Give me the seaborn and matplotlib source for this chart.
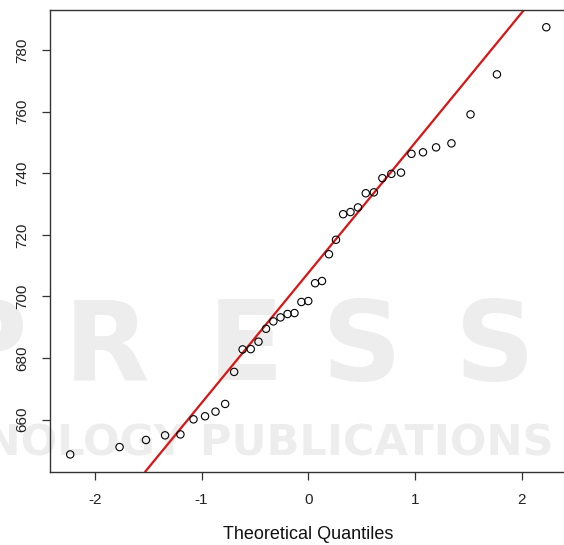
import matplotlib
matplotlib.use("Agg")
import matplotlib.pyplot as plt
import numpy as np
import pandas as pd
import seaborn as sns
from statistics import NormalDist

# sample values (sorted), n = 39
sample_values = [648.7, 651.1, 653.4, 654.9, 655.2, 660.1, 661.1, 662.6, 665.1, 675.5,
                 682.8, 682.9, 685.3, 689.5, 691.9, 693.2, 694.3, 694.6, 698.2, 698.5,
                 704.3, 705.0, 713.7, 718.4, 726.7, 727.4, 728.9, 733.5, 733.8, 738.4,
                 739.8, 740.2, 746.3, 746.8, 748.4, 749.7, 759.1, 772.1, 787.4]
x_ticks = [-2, -1, 0, 1, 2]
y_ticks = [660, 680, 700, 720, 740, 760, 780]
x_label = "Theoretical Quantiles"

# normal Q-Q: theoretical quantiles like R's qqnorm (ppoints for n > 10)
vals = np.sort(sample_values)
n = len(vals)
nd = NormalDist()
probs = (np.arange(1, n + 1) - 0.5) / n
theo = [nd.inv_cdf(p) for p in probs]
df = pd.DataFrame({"theoretical": theo, "sample": vals})

# qqline through first and third quartiles
q1, q3 = np.quantile(vals, [0.25, 0.75])
z1, z3 = nd.inv_cdf(0.25), nd.inv_cdf(0.75)
slope = (q3 - q1) / (z3 - z1)
intercept = q1 - slope * z1

sns.set_style("white")
plt.rcParams['font.family'] = ['Liberation Sans', 'DejaVu Sans']

W, H = 564, 545
fig = plt.figure(figsize=(W / 100, H / 100), dpi=100)

# faint publisher watermark, kept behind the plot
wm = '#ededed'
for letter, cx in zip("PRESS", [-14, 107, 246, 362, 495]):
    fig.text(cx / W, 1 - 380 / H, letter, fontsize=80, fontweight='bold', color=wm,
             family='DejaVu Sans', ha='center', va='baseline', zorder=-5)
fig.text(553 / W, 1 - 455 / H, "TECHNOLOGY PUBLICATIONS", fontsize=31, fontweight='bold',
         color=wm, family='DejaVu Sans', ha='right', va='baseline', zorder=-5)

ax = fig.add_axes([50 / W, (H - 471.7) / H, 516.5 / W, 461.7 / H])
ax.set_zorder(2)
ax.set_facecolor('none')

ax.axline((0, intercept), slope=slope, color='#d81414', lw=1.6, zorder=2)
sns.scatterplot(data=df, x="theoretical", y="sample", ax=ax, marker='o', s=28,
                facecolors='none', edgecolor='black', linewidth=0.8, zorder=3)

ax.set_xlim(-2.421, 2.421)
ax.set_ylim(643.1, 793.0)
ax.set_xticks(x_ticks)
ax.set_yticks(y_ticks)
ax.set_xticklabels([str(t) for t in x_ticks])
ax.set_yticklabels([str(t) for t in y_ticks], rotation=90, va='center')

for s in ax.spines.values():
    s.set_color('#333333')
    s.set_linewidth(1.0)
ax.tick_params(bottom=True, left=True, direction='out', length=6, width=0.9,
               color='#333333', labelsize=11, pad=9, labelcolor='#222222')
ax.set_xlabel(x_label, fontsize=13, labelpad=14, color='#111111')
ax.set_ylabel("")

fig.savefig("out.png", dpi=100)
